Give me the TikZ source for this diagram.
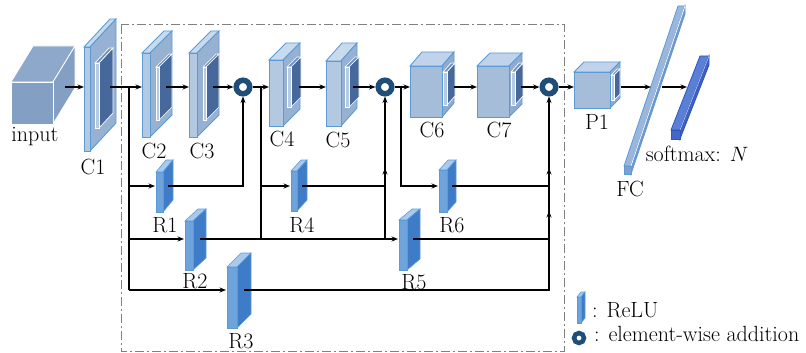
\documentclass[tikz,border=0pt]{standalone}
\usepackage{fontspec}
\usetikzlibrary{arrows.meta}
\definecolor{edgeB}{HTML}{5B9BD5}
\definecolor{cfront}{HTML}{B3C9E2}
\definecolor{ctop}{HTML}{C9DAEC}
\definecolor{cside}{HTML}{96B1D2}
\definecolor{bfront}{HTML}{A6BDD9}
\definecolor{btop}{HTML}{C0D3EA}
\definecolor{bside}{HTML}{8FABCF}
\definecolor{kdark}{HTML}{46689A}
\definecolor{kfront}{HTML}{B5CBE4}
\definecolor{ktop}{HTML}{7090BC}
\definecolor{rfront}{HTML}{6FA3DC}
\definecolor{rside}{HTML}{3F7CC8}
\definecolor{rtop}{HTML}{A9CAEE}
\definecolor{navy}{HTML}{1F4E79}
\definecolor{incol}{HTML}{839FC4}
\definecolor{intop}{HTML}{8DA8CB}
\definecolor{dashg}{HTML}{808080}
\definecolor{fcA}{HTML}{9AB6DC}
\definecolor{fcB}{HTML}{7395C8}
\definecolor{fcE}{HTML}{7FA0CC}
\definecolor{smA}{HTML}{5A7FD6}
\definecolor{smB}{HTML}{3F5FC0}
\definecolor{smE}{HTML}{4466C8}
\definecolor{smEdge}{HTML}{2F55C0}
% #1 x  #2 y(top of front)  #3 w  #4 h  #5 dx  #6 dy  #7 front  #8 top  #9 side
\newcommand\prism[9]{%
  \filldraw[fill=#8] (#1,#2) -- ++(#3,0) -- ++(#5,-#6) -- ++(-#3,0) -- cycle;
  \filldraw[fill=#9] (#1+#3,#2) -- ++(#5,-#6) -- ++(0,#4) -- ++(-#5,#6) -- cycle;
  \filldraw[fill=#7] (#1,#2) rectangle ++(#3,#4);}
\newcommand\cblk[6]{\begin{scope}[draw=edgeB,line width=0.9pt]\prism{#1}{#2}{#3}{#4}{#5}{#6}{cfront}{ctop}{cside}\end{scope}}
\newcommand\bblk[6]{\begin{scope}[draw=edgeB,line width=0.9pt]\prism{#1}{#2}{#3}{#4}{#5}{#6}{bfront}{btop}{bside}\end{scope}}
\newcommand\kblk[6]{\begin{scope}[draw=white,line width=0.7pt]\prism{#1}{#2}{#3}{#4}{#5}{#6}{kfront}{ktop}{kdark}\end{scope}}
\newcommand\relu[6]{\begin{scope}[draw=edgeB,line width=0.6pt]\prism{#1}{#2}{#3}{#4}{#5}{#6}{rfront}{rtop}{rside}\end{scope}}
\begin{document}
\begin{tikzpicture}[x=1pt,y=-1pt,
  arr/.style={-{Stealth[length=6.5pt,width=5pt]}, line width=1.1pt},
  ln/.style={line width=1.1pt},
  lbl/.style={font=\fontsize{22}{26}\selectfont, inner sep=0pt, anchor=base},
  addop/.style={circle, draw=navy, line width=5.5pt, minimum size=13.5pt, inner sep=0pt, outer sep=2.75pt, fill=white}]
\useasboundingbox (0,0) rectangle (806,353);

% dashed frame
\draw[dashg, line width=1pt, dash pattern=on 9pt off 3pt on 2pt off 3pt] (121,25) rectangle (564,351);

% input cube
\begin{scope}[draw=white,line width=0.8pt]\prism{11}{82}{42}{42}{22}{36}{incol}{intop}{incol}\end{scope}

% conv blocks
\cblk{84}{47}{6}{104}{26}{28}\kblk{95}{63}{4}{65}{14}{15}
\cblk{142}{53}{8}{84}{22}{22}\kblk{156}{67}{3}{53}{13}{13}
\cblk{189}{53}{8}{84}{22}{22}\kblk{203}{67}{3}{53}{13}{13}
\cblk{269}{60}{14}{66}{17}{17}\kblk{287}{67}{4}{40}{10}{10}
\cblk{326}{61}{15}{65}{16}{18}\kblk{345}{67}{4}{40}{10}{10}
\bblk{410}{66}{32}{51}{12}{14}\kblk{443}{72}{4}{33}{8}{9}
\bblk{477}{66}{32}{51}{13}{13}\kblk{511}{72}{4}{33}{8}{9}
\bblk{574}{72}{36}{36}{10}{10}\kblk{611}{75}{3}{25}{6}{6}

% FC bar
\begin{scope}[draw=edgeB,line width=0.8pt]
\filldraw[fill=fcA] (624,166) -- (631,166) -- (685,6) -- (678,6) -- cycle;
\filldraw[fill=fcB] (631,166) -- (631,174) -- (685,14) -- (685,6) -- cycle;
\filldraw[fill=fcE] (624,166) rectangle (631,174);
\draw[white,line width=0.7pt] (631,166) -- (685,6);
\end{scope}
% softmax bar
\begin{scope}[draw=smEdge,line width=0.8pt]
\filldraw[fill=smA] (671,130) -- (680,130) -- (709,56) -- (700,56) -- cycle;
\filldraw[fill=smB] (680,130) -- (680,139) -- (709,65) -- (709,56) -- cycle;
\filldraw[fill=smE] (671,130) rectangle (680,139);
\draw[white!70!smA,line width=0.5pt] (680,130) -- (709,56);
\end{scope}

% ReLU blocks
\relu{156}{172}{7}{40}{10}{12}
\relu{185}{221}{8}{49}{13}{12}
\relu{227}{267}{10}{61}{14}{14}
\relu{291}{171}{6}{40}{10}{11}
\relu{399}{220}{8}{50}{13}{11}
\relu{439}{170}{8}{42}{9}{10}
\relu{577}{297}{4}{26}{4}{5}

% coordinates
\coordinate (inO) at (65,87);  \coordinate (c1I) at (84,87);
\coordinate (c1O) at (110,87); \coordinate (c2I) at (142,87);
\coordinate (c2O) at (166,87); \coordinate (c3I) at (189,87);
\coordinate (c3O) at (213,87); \coordinate (c4I) at (269,87);
\coordinate (c4O) at (299,87); \coordinate (c5I) at (326,87);
\coordinate (c5O) at (353,87); \coordinate (c6I) at (410,87);
\coordinate (c6O) at (454,87); \coordinate (c7I) at (477,87);
\coordinate (c7O) at (521,87); \coordinate (p1I) at (574,87);
\coordinate (p1O) at (621,87); \coordinate (fcI) at (651,87);
\coordinate (fcO) at (662,87); \coordinate (smI) at (687,87);
\coordinate (j0) at (129,87); \coordinate (j1) at (129,186);
\coordinate (j2) at (129,239); \coordinate (j3) at (129,290);
\coordinate (j4) at (261,87); \coordinate (j5) at (261,186);
\coordinate (j6) at (261,239); \coordinate (j7) at (401,87);
\coordinate (r1I) at (155,186); \coordinate (r1O) at (168,186);
\coordinate (r2I) at (184,239); \coordinate (r2O) at (200,239);
\coordinate (r3I) at (226,290); \coordinate (r3O) at (244,290);
\coordinate (r4I) at (290,186); \coordinate (r4O) at (302,186);
\coordinate (r5I) at (398,239); \coordinate (r5O) at (413,239);
\coordinate (r6I) at (438,186); \coordinate (r6O) at (452,186);
\coordinate (q4) at (385,186); \coordinate (q5) at (385,239);
\coordinate (m4) at (385,168);
\coordinate (q6) at (549,239); \coordinate (q7) at (549,186);
\coordinate (m6) at (549,211); \coordinate (m7) at (549,168);

% addition nodes
\node[addop] (a1) at (243,87) {};
\node[addop] (a2) at (385,87) {};
\node[addop] (a3) at (549,87) {};
\node[addop, line width=4.5pt, minimum size=10pt, outer sep=2.25pt] (leg2) at (579,338) {};

% main row
\draw[arr] (inO) -- (c1I);
\draw[arr] (c1O) -- (c2I);
\draw[arr] (c2O) -- (c3I);
\draw[arr] (c3O) -- (a1);
\draw[arr] (a1) -- (c4I);
\draw[arr] (c4O) -- (c5I);
\draw[arr] (c5O) -- (a2);
\draw[arr] (a2) -- (c6I);
\draw[arr] (c6O) -- (c7I);
\draw[arr] (c7O) -- (a3);
\draw[arr] (a3) -- (p1I);
\draw[arr] (p1O) -- (fcI);
\draw[arr] (fcO) -- (smI);

% residual branches
\draw[ln] (j0) -- (j3);
\draw[arr] (j1) -- (r1I);
\draw[arr] (j2) -- (r2I);
\draw[arr] (j3) -- (r3I);
\draw[arr] (r1O) -| (a1);
\draw[arr] (r2O) -- (r5I);
\draw[arr] (r3O) -| (a3);
\draw[ln] (j4) -- (j6);
\draw[arr] (j5) -- (r4I);
\draw[ln] (r4O) -- (q4);
\draw[arr] (q5) -- (a2);
\draw[arr] (q4) -- (m4);
\draw[arr] (j7) |- (r6I);
\draw[ln] (r6O) -- (q7);
\draw[ln] (r5O) -- (q6);
\draw[arr] (q6) -- (m6);
\draw[arr] (q7) -- (m7);

% labels
\node[lbl] (tin) at (35,141) {input};
\node[lbl] (tc1) at (93,174) {C1};
\node[lbl] (tc2) at (154,158) {C2};
\node[lbl] (tc3) at (202,158) {C3};
\node[lbl] (tc4) at (282,146) {C4};
\node[lbl] (tc5) at (338,147) {C5};
\node[lbl] (tc6) at (432,137) {C6};
\node[lbl] (tc7) at (499,137) {C7};
\node[lbl] (tp1) at (597,129) {P1};
\node[lbl] (tfc) at (630,196) {FC};
\node[lbl] (tsm) at (697,161) {softmax: $N$};
\node[lbl] (tr1) at (165,232) {R1};
\node[lbl] (tr2) at (195,288) {R2};
\node[lbl] (tr3) at (241,348) {R3};
\node[lbl] (tr4) at (302,232) {R4};
\node[lbl] (tr5) at (414,289) {R5};
\node[lbl] (tr6) at (452,232) {R6};
\node[lbl, anchor=base west] (leg1t) at (592,317) {: ReLU};
\node[lbl, anchor=base west] (leg2t) at (594,341) {: element-wise addition};
\end{tikzpicture}
\end{document}
